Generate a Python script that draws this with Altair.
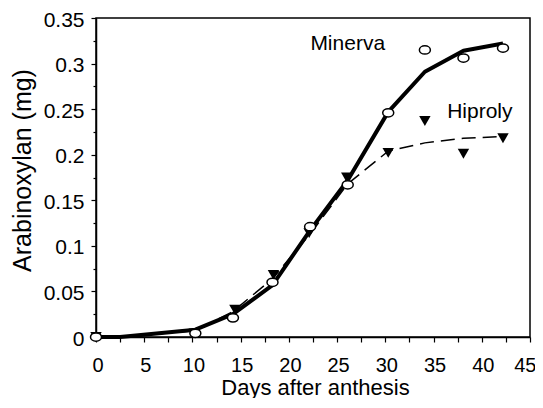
import altair as alt
import pandas as pd

days_minerva = [0, 10.3, 14.2, 18.3, 22.2, 26.1, 30.3, 34.1, 38.1, 42.2]
ax_minerva = [0.0, 0.004, 0.021, 0.060, 0.121, 0.167, 0.246, 0.315, 0.306, 0.317]
days_hiproly = [0, 10.2, 14.4, 18.4, 22.1, 26.0, 30.3, 34.1, 38.1, 42.2]
ax_hiproly = [0.0, 0.004, 0.030, 0.068, 0.114, 0.175, 0.202, 0.237, 0.201, 0.218]

# Fitted curves
fit_days = [0, 2.5, 10.3, 14.2, 18.3, 22.2, 26.1, 30.3, 34.1, 38.1, 42.2]
fit_minerva = [0.0, 0.0, 0.008, 0.025, 0.057, 0.117, 0.172, 0.247, 0.291, 0.314, 0.322]
fit_hiproly = [0.0, 0.0, 0.007, 0.028, 0.064, 0.113, 0.168, 0.204, 0.213, 0.218, 0.220]

# Series labels
label_text = ["Minerva", "Hiproly"]
label_day = [26.1, 39.8]
label_val = [0.322, 0.247]

x_ticks = [i * 2.5 for i in range(19)]
y_ticks = [round(i * 0.025, 3) for i in range(15)]

FONT = "Liberation Sans"

pts_m = pd.DataFrame({"day": days_minerva, "ax": ax_minerva})
pts_h = pd.DataFrame({"day": days_hiproly, "ax": ax_hiproly})
fit_m = pd.DataFrame({"day": fit_days, "ax": fit_minerva})
fit_h = pd.DataFrame({"day": fit_days, "ax": fit_hiproly})
lab = pd.DataFrame({"day": label_day, "ax": label_val, "t": label_text})

x_enc = alt.X(
    "day:Q",
    scale=alt.Scale(domain=[0, 45], nice=False, zero=False),
    axis=alt.Axis(
        values=x_ticks,
        labelExpr="datum.value % 5 == 0 ? format(datum.value, 'd') : ''",
        title="Days after anthesis",
        titleX=219,
        titleY=57,
        titleAlign="center",
        titleBaseline="alphabetic",
        titleFontSize=22,
        labelFontSize=20,
        tickSize=5,
        labelPadding=13,
        labelOffset=1,
        labelFlush=True,
        labelFlushOffset=5,
        labelOverlap=False,
    ),
)
y_enc = alt.Y(
    "ax:Q",
    scale=alt.Scale(domain=[0, 0.35], nice=False),
    axis=alt.Axis(
        values=y_ticks,
        labelExpr="abs(datum.value * 20 - round(datum.value * 20)) < 0.001 ? format(datum.value, '~g') : ''",
        title="Arabinoxylan (mg)",
        titleX=-74,
        titleY=152,
        titleAngle=270,
        titleAlign="center",
        titleBaseline="middle",
        titleFontSize=25,
        labelFontSize=21,
        tickSize={"condition": {"test": "abs(datum.value * 20 - round(datum.value * 20)) < 0.001", "value": 5}, "value": 3},
        labelPadding=7,
        labelOffset=2,
        labelFlush=False,
        labelOverlap=False,
    ),
)

line_m = alt.Chart(fit_m).mark_line(color="black", strokeWidth=4, strokeJoin="round").encode(x=x_enc, y=y_enc)
line_h = alt.Chart(fit_h).mark_line(color="black", strokeWidth=1.5, strokeDash=[14, 7]).encode(x=x_enc, y=y_enc)
tri_h = alt.Chart(pts_h).mark_point(
    shape="triangle-down", filled=True, color="black", size=130, opacity=1
).encode(x=x_enc, y=y_enc)
ellipse = "M-1,0A1,0.75,0,1,1,1,0A1,0.75,0,1,1,-1,0Z"
circ_m = alt.Chart(pts_m).mark_point(
    shape=ellipse, filled=True, fill="white", stroke="black", strokeWidth=1.5, size=121, opacity=1
).encode(x=x_enc, y=y_enc)
text = alt.Chart(lab).mark_text(font=FONT, fontSize=21, color="black", align="center", baseline="middle").encode(
    x=x_enc, y=y_enc, text="t:N"
)

chart = (
    alt.layer(line_m, line_h, tri_h, circ_m, text)
    .properties(
        width=434,
        height=319,
        autosize="none",
        padding={"left": 88, "top": 10, "right": 5, "bottom": 61},
        background="white",
    )
    .configure_view(stroke="black", strokeWidth=1.5)
    .configure_axis(
        grid=False,
        domainColor="black",
        domainWidth=1.5,
        tickColor="black",
        tickWidth=1.2,
        labelColor="black",
        titleColor="black",
        labelFont=FONT,
        titleFont=FONT,
        titleFontWeight="normal",
    )
)

chart.save("out.html", embed_options={"renderer": "svg", "actions": False})
